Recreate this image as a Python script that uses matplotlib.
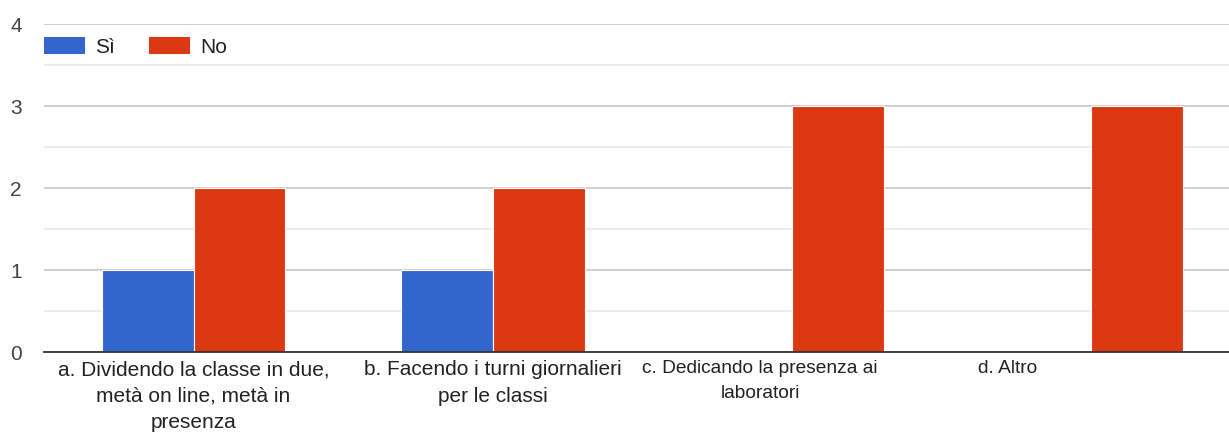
import matplotlib
matplotlib.use("Agg")
import matplotlib.pyplot as plt
import matplotlib.transforms as mtransforms
from matplotlib.patches import Patch
import numpy as np

categories = [
    "a. Dividendo la classe in due,\nmetà on line, metà in\npresenza",
    "b. Facendo i turni giornalieri\nper le classi",
    "c. Dedicando la presenza ai\nlaboratori",
    "d. Altro",
]
series_names = ["Sì", "No"]
si_values = [1, 1, 0, 0]
no_values = [2, 2, 3, 3]
colors = ["#3366cc", "#dc3912"]
y_ticks = [0, 1, 2, 3, 4]

plt.rcParams['font.family'] = ['Liberation Sans', 'DejaVu Sans']

W, H = 1229, 432
fig = plt.figure(figsize=(W / 100, H / 100), dpi=100)
ax = fig.add_axes([44 / W, 80 / H, 1 - 44 / W, 328 / H])

x = np.arange(len(categories))
bw = 0.307
ax.bar(x - bw / 2, si_values, bw, color=colors[0], edgecolor="white", linewidth=0.8, zorder=3)
ax.bar(x + bw / 2, no_values, bw, color=colors[1], edgecolor="white", linewidth=0.8, zorder=3)

ax.set_xlim(-0.5, 3.5 - 12 / 299.5)
ax.set_ylim(0, 4)
ax.set_yticks(y_ticks)
ax.set_yticks(np.arange(0.5, 4, 1), minor=True)
ax.grid(axis="y", which="major", color="#cccccc", linewidth=1.3, zorder=0)
ax.grid(axis="y", which="minor", color="#ebebeb", linewidth=1.3, zorder=0)
ax.tick_params(axis="y", which="both", length=0, pad=16, labelsize=15, labelcolor="#444444")
ax.set_xticks(x)
ax.set_xticklabels(categories, fontsize=15, color="#222222", linespacing=1.48)
ax.tick_params(axis="x", length=0, pad=6)

# The last labels are drawn narrower and shifted left in the reference layout
offsets_px = [0, 0, -32, -84]
for i, (lab, off) in enumerate(zip(ax.get_xticklabels(), offsets_px)):
    if i >= 2:
        lab.set_fontsize(13.8)
        lab.set_linespacing(1.48 * 15 / 13.8)
    if off:
        lab.set_transform(lab.get_transform() + mtransforms.ScaledTranslation(off / 100, 0, fig.dpi_scale_trans))

for s in ["top", "right", "left"]:
    ax.spines[s].set_visible(False)
ax.spines["bottom"].set_color("#333333")
ax.spines["bottom"].set_linewidth(1.3)
ax.spines["bottom"].set_zorder(4)

handles = [Patch(facecolor=colors[0]), Patch(facecolor=colors[1])]
ax.legend(handles, series_names, ncol=2, loc="upper left",
          bbox_to_anchor=(0, 1 - 13 / 328), frameon=False, fontsize=15,
          handlelength=1.97, handleheight=0.91, handletextpad=0.5,
          columnspacing=1.6, borderaxespad=0, borderpad=0, labelcolor="#222222")

fig.savefig("out.png", dpi=100, facecolor="white")
